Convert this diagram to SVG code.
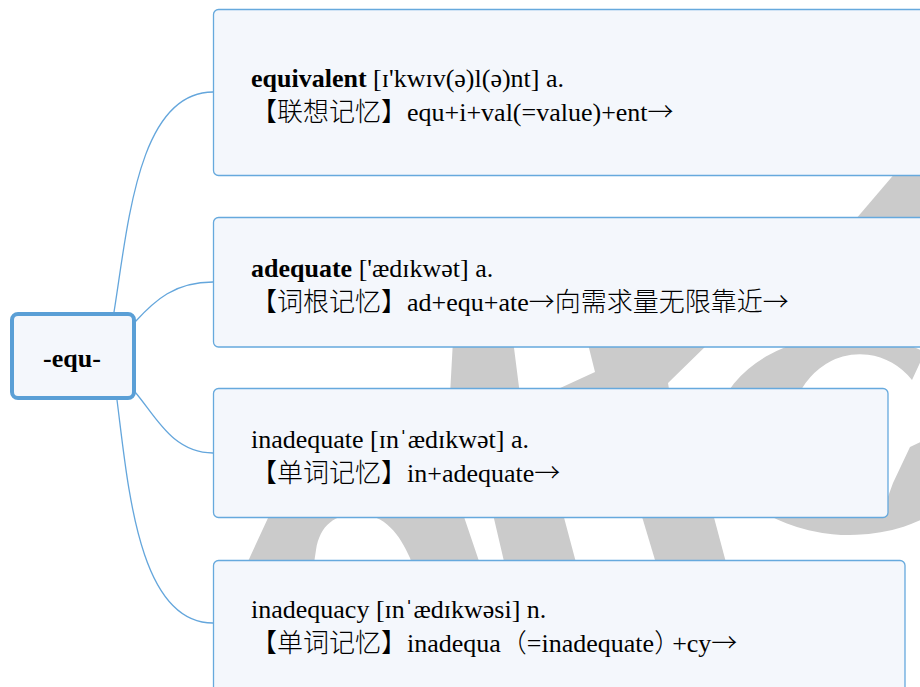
<svg xmlns="http://www.w3.org/2000/svg" width="920" height="687" viewBox="0 0 920 687">
<style>
.box{fill:#f4f7fc;stroke:#66a9dd;stroke-width:1.3}
.root{fill:#f4f7fc;stroke:#5a9fd6;stroke-width:4}
.t{font-family:"Liberation Serif","Noto Sans CJK SC",serif;font-size:26px;fill:#000}
.c{font-weight:300}
.b{font-weight:bold}
.ar{font-family:"Noto Sans CJK SC",sans-serif;font-weight:300}
.link{fill:none;stroke:#64a6dc;stroke-width:1.3}
.wm{fill:#cbcbcb}
</style>
<rect width="920" height="687" fill="#ffffff"/>
<g id="watermark">
<polygon class="wm" points="838,240 908,158 940,158 940,240"/>
<polygon class="wm" points="453,340 450,395 492,510 506,570 578,570 562,510 520,395 513,340"/>
<polygon class="wm" points="587,340 712,340 668,383 670,395 545,395 595,372"/>
<polygon class="wm" points="640,510 712,510 728,570 658,570"/>
<path class="wm" fill-rule="evenodd" d="M244,570 L274,505 L460,505 L482,570 Z M313,570 L316,550 C320,525 335,514 358,514 C385,514 400,535 410,558 L414,570 Z"/>
<path class="wm" d="M925,352 A135,100 0 1 0 925,518 L925,440 L910,447 L893,483 L885,505 A70,78 0 1 1 912,380 Z"/>
</g>
<g id="connectors">
<path class="link" d="M114,312 C128,225 138,92 213,92"/>
<path class="link" d="M135,322 C155,300 175,282 213,282"/>
<path class="link" d="M135,392 C155,415 172,453 213,453"/>
<path class="link" d="M117,400 C128,485 138,623 213,623"/>
</g>
<g id="root">
<rect class="root" x="12" y="314" width="122" height="84" rx="6"/>
<text class="t b" x="72" y="367" text-anchor="middle">-equ-</text>
</g>
<g id="node-equivalent">
<rect class="box" x="213.5" y="9.5" width="720" height="166" rx="5"/>
<text class="t" x="251" y="87"><tspan class="b">equivalent</tspan> [ɪ'kwɪv(ə)l(ə)nt] a.</text>
<text class="t c" x="251" y="121">【联想记忆】equ+i+val(=value)+ent<tspan class="ar">→</tspan></text>
</g>
<g id="node-adequate">
<rect class="box" x="213.5" y="217.5" width="720" height="129.5" rx="5"/>
<text class="t" x="251" y="277"><tspan class="b">adequate</tspan> ['ædɪkwət] a.</text>
<text class="t c" x="251" y="311">【词根记忆】ad+equ+ate<tspan class="ar">→</tspan>向需求量无限靠近<tspan class="ar">→</tspan></text>
</g>
<g id="node-inadequate">
<rect class="box" x="213.5" y="388.5" width="674.5" height="129" rx="5"/>
<text class="t" x="251" y="448">inadequate [ɪnˈædɪkwət] a.</text>
<text class="t c" x="251" y="482">【单词记忆】in+adequate<tspan class="ar">→</tspan></text>
</g>
<g id="node-inadequacy">
<rect class="box" x="213.5" y="560.5" width="691.5" height="140" rx="5"/>
<text class="t" x="251" y="618">inadequacy [ɪnˈædɪkwəsi] n.</text>
<text class="t c" x="251" y="652">【单词记忆】inadequa（=inadequate<tspan letter-spacing="-8">）</tspan>+cy<tspan class="ar">→</tspan></text>
</g>
</svg>
